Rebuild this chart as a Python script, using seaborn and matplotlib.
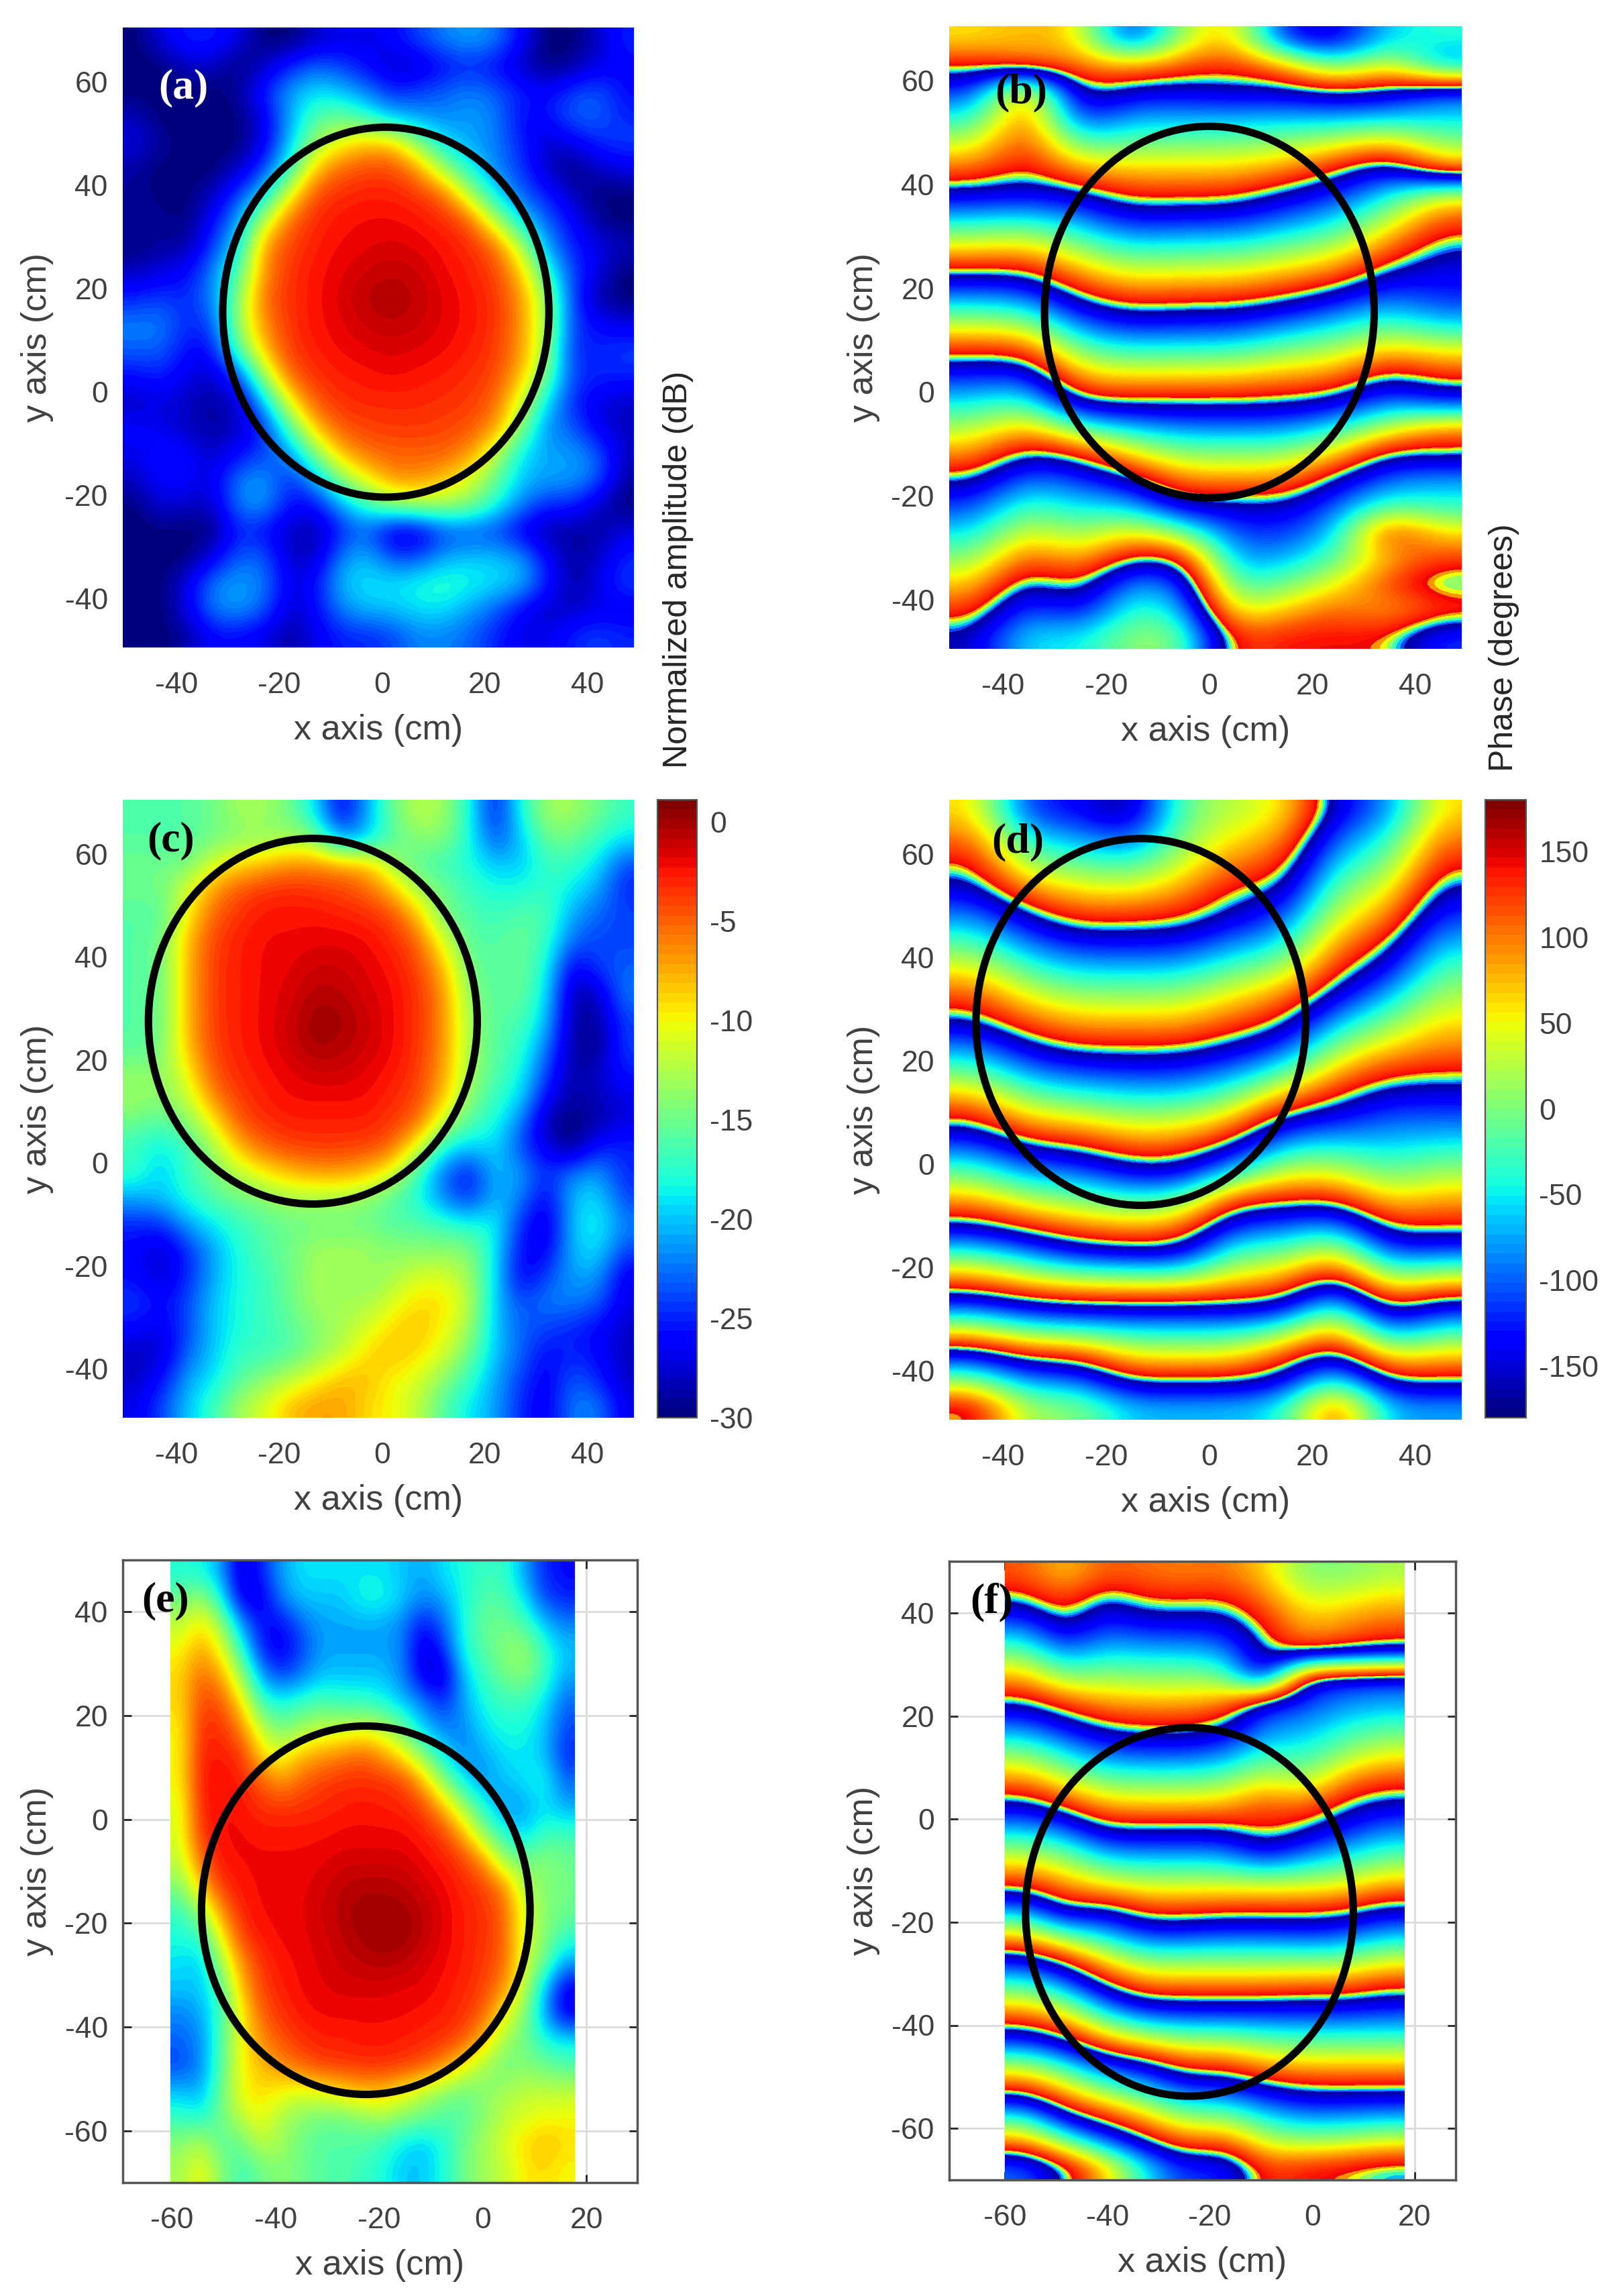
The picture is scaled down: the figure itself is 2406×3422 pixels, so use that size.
import numpy as np
import pandas as pd
import matplotlib
matplotlib.use("Agg")
import matplotlib.pyplot as plt
import seaborn as sns
from matplotlib.colors import ListedColormap
from matplotlib.patches import Ellipse

# amplitude in dB, rows run top to bottom, 5 cm rows
amp_a = [
    [-30, -27, -25, -25, -27, -30, -30, -28, -27, -27, -26, -24, -22, -21, -22, -26, -30, -30, -28, -25],
    [-30, -30, -28, -28, -30, -28, -25, -23, -24, -26, -28, -28, -26, -25, -26, -28, -30, -29, -27, -26],
    [-30, -30, -30, -30, -29, -25, -21, -19, -20, -22, -25, -24, -23, -22, -23, -25, -26, -24, -23, -26],
    [-28, -30, -30, -30, -30, -27, -21, -16, -15, -17, -20, -21, -22, -21, -22, -26, -26, -23, -23, -25],
    [-27, -29, -30, -30, -30, -27, -20, -13, -10, -8, -8, -14, -19, -21, -22, -25, -28, -27, -25, -24],
    [-29, -30, -30, -30, -28, -24, -17, -8, -5, -4, -4, -6.5, -13, -18, -22, -24, -28, -30, -28, -27],
    [-29, -30, -30, -28, -24, -19, -10, -4, -3.1, -2.8, -2.8, -3.4, -5, -12, -19, -23, -25, -28, -30, -30],
    [-29, -29, -30, -26, -21, -12, -5, -3.1, -2.5, -2.2, -2.2, -2.5, -3.1, -4.5, -12, -19, -23, -26, -29, -30],
    [-30, -29, -29, -24, -19, -6.5, -4, -2.8, -2.2, -1.9, -1.6, -1.9, -2.5, -3.1, -5, -12, -21, -25, -27, -28],
    [-28, -27, -26, -22, -16, -6.5, -3.4, -2.5, -1.9, -1.2, -0.8, -1.2, -2.2, -2.8, -4, -8, -17, -24, -27, -30],
    [-25, -24, -25, -22, -14, -5, -3.4, -2.5, -1.6, -0.6, -0.3, -0.8, -1.9, -2.5, -3.4, -6.5, -13, -24, -29, -30],
    [-22, -22, -25, -24, -13, -6.5, -3.4, -2.5, -1.9, -1.2, -0.8, -1.2, -1.9, -2.5, -3.4, -6.5, -13, -24, -26, -27],
    [-23, -23, -26, -26, -16, -8, -3.7, -2.8, -2.2, -1.9, -1.6, -1.9, -2.2, -2.8, -3.7, -6.5, -13, -25, -25, -24],
    [-26, -25, -27, -28, -24, -13, -5, -3.4, -2.8, -2.5, -2.2, -2.5, -2.8, -3.4, -4, -8, -15, -24, -25, -25],
    [-28, -27, -28, -29, -28, -20, -10, -4.5, -3.4, -3.1, -3.1, -3.1, -3.4, -3.7, -5, -11, -19, -25, -27, -28],
    [-26, -27, -28, -29, -28, -25, -16, -8, -4.5, -4, -3.7, -3.7, -4, -4.5, -6.5, -14, -22, -23, -27, -28],
    [-27, -25, -26, -28, -26, -24, -22, -14, -8, -5.5, -5, -5, -5, -6.5, -12, -19, -21, -21, -23, -28],
    [-28, -26, -26, -27, -22, -21, -25, -21, -14, -10, -6.5, -6.5, -8, -11, -15, -20, -21, -21, -23, -29],
    [-30, -27, -28, -28, -22, -21, -26, -26, -21, -17, -14, -13, -13, -14, -18, -22, -25, -25, -28, -30],
    [-30, -30, -30, -30, -25, -26, -28, -29, -25, -23, -28, -28, -24, -24, -24, -27, -29, -29, -29, -27],
    [-30, -30, -30, -27, -23, -23, -28, -28, -22, -20, -24, -24, -21, -20, -20, -21, -26, -29, -28, -25],
    [-30, -30, -27, -22, -21, -22, -27, -26, -20, -19, -19, -18, -17, -18, -19, -20, -25, -29, -27, -24],
    [-30, -30, -27, -22, -21, -23, -28, -26, -22, -20, -20, -19, -19, -21, -23, -26, -28, -28, -27, -27],
    [-30, -30, -29, -26, -26, -27, -29, -27, -25, -25, -24, -22, -22, -23, -25, -27, -27, -25, -24, -25],
]
amp_c = [
    [-16, -16, -16, -15, -13, -13, -15, -19, -27, -21, -15, -12, -13, -18, -26, -18, -13, -13, -15, -17],
    [-16, -16, -16, -15, -14, -14, -13, -14, -22, -20, -16, -14, -14, -18, -24, -20, -15, -15, -17, -19],
    [-15, -15, -15, -11, -9, -8, -6.5, -6.5, -7, -8, -13, -16, -17, -18, -20, -20, -17, -17, -19, -24],
    [-15, -15, -11, -7, -4.5, -3.4, -3.1, -3.4, -4, -5, -8, -13, -15, -17, -18, -18, -17, -19, -21, -25],
    [-16, -16, -10, -5, -3.4, -2.5, -2.5, -2.5, -2.8, -3.1, -4, -8, -15, -16, -17, -16, -16, -21, -23, -24],
    [-16, -15, -8, -4, -2.8, -2.2, -2.2, -1.9, -1.9, -2.2, -3.1, -5, -11, -16, -16, -15, -17, -23, -24, -24],
    [-16, -15, -8, -3.7, -2.8, -2.2, -1.9, -1.2, -1.2, -1.9, -2.5, -4, -8, -15, -16, -15, -18, -27, -24, -23],
    [-16, -15, -8, -3.7, -2.8, -2.2, -1.6, -0.5, -0.8, -1.6, -2.2, -3.4, -6.5, -14, -16, -15, -19, -29, -28, -22],
    [-16, -15, -8, -3.7, -2.8, -2.2, -1.2, 0.2, 0, -1.2, -2.2, -3.4, -6.5, -13, -16, -16, -20, -29, -29, -24],
    [-16, -15, -8, -4, -2.8, -2.2, -1.2, 0, -0.5, -1.2, -2.2, -3.4, -6.5, -13, -16, -17, -22, -29, -30, -24],
    [-14, -14, -10, -4.5, -3.1, -2.5, -1.9, -1.2, -1.2, -1.9, -2.5, -3.7, -7, -13, -16, -18, -24, -29, -28, -25],
    [-13, -14, -12, -6, -3.7, -2.8, -2.2, -2.2, -2.2, -2.2, -3.1, -4, -8, -14, -17, -19, -26, -29, -28, -27],
    [-15, -16, -14, -10, -4.5, -3.4, -2.8, -2.8, -2.8, -2.8, -3.7, -5, -12, -16, -18, -22, -29, -30, -29, -27],
    [-17, -19, -17, -13, -8, -5, -4, -3.7, -3.7, -4, -5, -11, -18, -20, -19, -24, -27, -30, -25, -25],
    [-17, -20, -17, -15, -12, -10, -8, -7, -7, -8, -11, -17, -23, -26, -20, -21, -25, -22, -21, -25],
    [-21, -20, -18, -16, -15, -14, -13, -13, -13, -14, -16, -18, -22, -25, -20, -22, -27, -20, -19, -24],
    [-25, -25, -21, -19, -17, -16, -15, -15, -15, -15, -16, -16, -17, -18, -18, -25, -28, -20, -18, -22],
    [-26, -28, -25, -21, -18, -16, -15, -13, -13, -13, -14, -14, -14, -14, -19, -26, -27, -20, -19, -24],
    [-26, -28, -25, -21, -18, -17, -15, -13, -13, -14, -13, -11, -11, -13, -19, -27, -24, -21, -21, -27],
    [-24, -26, -24, -20, -18, -17, -15, -13, -13, -13, -11, -9, -9, -12, -20, -24, -22, -22, -23, -27],
    [-26, -27, -24, -20, -18, -17, -16, -14, -13, -11, -9, -8, -10, -13, -20, -23, -24, -25, -26, -28],
    [-28, -28, -23, -20, -17, -17, -16, -14, -12, -9, -8, -9, -11, -15, -20, -23, -26, -25, -26, -28],
    [-28, -26, -21, -19, -16, -14, -12, -10, -8, -8, -10, -11, -14, -17, -21, -24, -27, -23, -25, -28],
    [-27, -24, -20, -17, -13, -11, -8, -7, -7, -9, -10, -12, -16, -19, -21, -25, -27, -22, -22, -27],
]
amp_e = [
    [-18, -18, -21, -28, -25, -21, -19, -19, -19, -19, -19, -20, -21, -19, -18, -17, -17, -21, -25, -26],
    [-15, -13, -18, -27, -27, -22, -20, -20, -20, -18, -18, -20, -22, -21, -18, -16, -16, -19, -24, -25],
    [-12, -9, -13, -21, -26, -26, -23, -21, -21, -21, -21, -22, -26, -23, -18, -15, -15, -16, -20, -22],
    [-10, -7, -10, -17, -25, -27, -24, -21, -21, -21, -21, -22, -28, -25, -18, -16, -14, -13, -17, -20],
    [-9, -5, -7, -13, -21, -24, -22, -20, -20, -20, -20, -22, -27, -28, -20, -17, -15, -14, -17, -21],
    [-9, -4, -4.5, -9, -17, -18, -17, -16, -17, -17, -18, -20, -22, -25, -21, -18, -17, -17, -19, -23],
    [-10, -3.1, -3.4, -6, -12, -15, -13, -12, -12, -11, -12, -15, -20, -22, -22, -19, -18, -18, -20, -24],
    [-10, -2.8, -2.8, -3.4, -9, -11, -8, -7, -6, -5, -7, -10, -14, -19, -22, -21, -19, -19, -20, -25],
    [-10, -2.5, -2.2, -2.8, -5, -7, -5, -4, -3.4, -3.4, -3.4, -4, -8, -14, -19, -22, -20, -19, -18, -23],
    [-11, -2.8, -2.2, -2.5, -3.4, -3.7, -3.4, -3.1, -2.8, -2.5, -2.8, -3.1, -4, -8, -13, -18, -22, -21, -19, -21],
    [-11, -3.4, -2.2, -2.2, -2.5, -2.5, -2.5, -2.5, -2.2, -2.2, -2.2, -2.2, -2.8, -4, -8, -14, -18, -20, -17, -17],
    [-12, -5, -2.5, -2.2, -2.2, -2.2, -2.2, -1.9, -1.6, -1.6, -1.6, -1.6, -2.2, -2.8, -4, -7, -14, -15, -14, -15],
    [-14, -8, -3.4, -2.5, -2.2, -2.2, -1.9, -1.6, -0.8, -0.5, -0.5, -0.8, -1.6, -2.2, -3.1, -4, -6.5, -13, -14, -15],
    [-17, -13, -6.5, -2.8, -2.2, -2.2, -1.9, -1.2, -0.5, 0, 0, 0, -0.8, -1.9, -2.8, -3.4, -5, -11, -14, -15],
    [-18, -17, -10, -4, -2.5, -2.2, -1.9, -1.6, -0.8, 0, 0.2, 0.2, -0.8, -1.9, -2.8, -3.4, -5, -11, -14, -17],
    [-19, -20, -13, -6.5, -3.4, -2.5, -2.2, -1.6, -1.2, -0.8, -0.5, -0.8, -1.6, -2.2, -2.8, -3.7, -5, -11, -15, -21],
    [-20, -20, -16, -8, -4, -2.8, -2.2, -1.9, -1.6, -1.6, -1.6, -1.9, -1.9, -2.5, -3.1, -4, -6.5, -12, -20, -27],
    [-22, -21, -17, -10, -5, -3.4, -2.5, -2.2, -2.2, -2.2, -2.2, -2.2, -2.5, -2.8, -3.4, -5, -10, -14, -21, -27],
    [-23, -22, -16, -10, -6.5, -4.5, -3.4, -2.8, -2.8, -2.5, -2.5, -2.8, -3.1, -3.4, -4.5, -8, -13, -15, -18, -19],
    [-24, -22, -16, -10, -8, -6.5, -5, -4, -3.7, -3.4, -3.4, -3.7, -4.5, -6.5, -10, -13, -15, -14, -15, -16],
    [-20, -21, -15, -10, -9, -10, -11, -10, -9, -8, -8, -10, -12, -14, -15, -14, -13, -12, -12, -12],
    [-17, -18, -15, -12, -10, -13, -14, -15, -15, -14, -13, -14, -15, -16, -16, -14, -12, -11, -10, -10],
    [-14, -12, -16, -15, -12, -13, -15, -16, -16, -16, -17, -19, -20, -18, -15, -13, -11, -9, -8, -9],
    [-13, -10, -14, -17, -15, -14, -15, -16, -16, -17, -18, -20, -20, -18, -15, -13, -12, -9.5, -9, -10],
]

# phase in degrees, one list per column (left to right), unwrapped, 5 cm rows top to bottom
phase_b = [
    [60, 150, 230, 310, 390, 470, 560, 665, 775, 890, 1000, 1110, 1220, 1310, 1385, 1460, 1535, 1615, 1680, 1740, 1800, 1870, 1930, 1990],
    [80, 110, 490, 500, 510, 525, 570, 680, 790, 890, 990, 1100, 1220, 1320, 1420, 1530, 1630, 1710, 1780, 1850, 1930, 2000, 2060, 2110],
    [70, 110, 150, 215, 330, 445, 557, 640, 725, 810, 893, 980, 1070, 1160, 1250, 1420, 1600, 1680, 1740, 1800, 1870, 1940, 2000, 2100],
    [-160, 80, 200, 280, 350, 430, 500, 580, 670, 760, 850, 940, 1040, 1145, 1250, 1375, 1505, 1635, 1740, 1860, 1970, 2080, 2130, 2170],
    [20, 120, 205, 280, 355, 430, 505, 590, 680, 770, 860, 950, 1045, 1150, 1250, 1350, 1445, 1540, 1630, 1800, 1975, 2060, 2110, 2170],
    [90, 140, 190, 280, 355, 430, 505, 590, 680, 770, 860, 950, 1045, 1150, 1250, 1350, 1445, 1540, 1635, 1680, 1710, 1760, 1830, 1920],
    [-150, 90, 195, 285, 370, 455, 550, 625, 710, 795, 885, 985, 1080, 1170, 1255, 1350, 1445, 1540, 1630, 1670, 1720, 1790, 1870, 1950],
    [-170, -40, 170, 280, 395, 510, 590, 660, 740, 825, 930, 1020, 1100, 1180, 1275, 1390, 1505, 1630, 1690, 1730, 1780, 1850, 1920, 1950],
    [-60, 60, 185, 290, 440, 580, 663, 745, 826, 908, 985, 1060, 1160, 1265, 1350, 1470, 1625, 1700, 1780, 1960, 1880, 1930, 1880, 1950],
    [-40, -100, 240, 300, 360, 460, 760, 850, 900, 930, 950, 1020, 1130, 1220, 1310, 1540, 1610, 1720, 1760, 1860, 1930, 1990, 1920, 2040],
]
phase_d = [
    [430, 475, 520, 565, 630, 700, 770, 840, 900, 985, 1070, 1165, 1250, 1340, 1435, 1530, 1630, 1760, 1900, 2030, 2200, 2380, 2530, 2690],
    [230, 305, 370, 460, 550, 620, 690, 760, 830, 910, 990, 1075, 1165, 1270, 1360, 1470, 1580, 1710, 1840, 1990, 2130, 2310, 2430, 2530],
    [220, 280, 350, 420, 490, 575, 650, 725, 795, 870, 960, 1050, 1150, 1250, 1350, 1440, 1540, 1650, 1810, 1970, 2120, 2300, 2430, 2530],
    [160, 240, 325, 410, 495, 575, 650, 725, 795, 870, 950, 1030, 1115, 1200, 1295, 1410, 1520, 1635, 1800, 1970, 2100, 2210, 2330, 2450],
    [350, 365, 395, 450, 505, 575, 650, 725, 795, 870, 950, 1030, 1120, 1205, 1290, 1420, 1535, 1630, 1800, 1970, 2100, 2210, 2330, 2450],
    [390, 420, 470, 520, 555, 625, 700, 770, 835, 905, 985, 1070, 1165, 1270, 1400, 1580, 1680, 1780, 1860, 1970, 2100, 2210, 2330, 2450],
    [410, 450, 490, 535, 600, 660, 730, 810, 875, 950, 1050, 1170, 1290, 1390, 1490, 1590, 1690, 1780, 1880, 1980, 2140, 2280, 2360, 2470],
    [570, 620, 670, 720, 760, 810, 860, 915, 1000, 1080, 1160, 1235, 1310, 1400, 1490, 1600, 1730, 1860, 1990, 2130, 2260, 2370, 2510, 2670],
    [620, 670, 710, 760, 810, 870, 925, 1000, 1070, 1140, 1220, 1290, 1340, 1380, 1430, 1500, 1590, 1680, 1800, 1930, 2050, 2200, 2330, 2440],
    [790, 830, 870, 915, 960, 1010, 1060, 1100, 1140, 1180, 1230, 1290, 1340, 1400, 1460, 1530, 1590, 1690, 1840, 2000, 2120, 2230, 2330, 2440],
]
phase_f = [
    [120, 170, 260, 350, 445, 540, 630, 730, 820, 920, 1020, 1120, 1220, 1350, 1510, 1660, 1780, 1900, 2020, 2170, 2310, 2470, 2620, 2780],
    [70, 120, 170, 260, 360, 490, 580, 670, 760, 870, 990, 1090, 1170, 1250, 1420, 1600, 1720, 1850, 1970, 2110, 2230, 2350, 2510, 2700],
    [120, 190, 240, 300, 375, 450, 535, 620, 710, 805, 910, 1020, 1130, 1270, 1380, 1500, 1620, 1740, 1880, 2030, 2160, 2290, 2420, 2600],
    [110, 150, 215, 290, 365, 445, 520, 610, 705, 800, 910, 1010, 1110, 1210, 1320, 1440, 1550, 1680, 1830, 1995, 2110, 2230, 2340, 2470],
    [100, 150, 215, 290, 365, 445, 520, 610, 705, 800, 910, 1010, 1110, 1210, 1320, 1440, 1550, 1670, 1800, 1930, 2040, 2160, 2270, 2390],
    [110, 155, 210, 275, 360, 460, 545, 625, 715, 805, 910, 1010, 1110, 1220, 1330, 1440, 1550, 1670, 1800, 1930, 2040, 2160, 2280, 2400],
    [70, 110, 150, 170, 175, 580, 630, 690, 770, 850, 860, 950, 1110, 1220, 1330, 1440, 1550, 1670, 1780, 1880, 2000, 2100, 2190, 2290],
    [0, 40, 80, 130, 560, 600, 640, 680, 730, 830, 900, 1000, 1110, 1220, 1320, 1440, 1560, 1670, 1770, 1870, 1970, 2070, 2170, 2310],
    [0, 50, 100, 150, 580, 630, 680, 730, 820, 890, 950, 1030, 1120, 1230, 1330, 1440, 1560, 1670, 1770, 1870, 1970, 2070, 2180, 2320],
    [20, 70, 120, 170, 590, 640, 700, 770, 850, 920, 990, 1070, 1160, 1270, 1370, 1480, 1590, 1680, 1770, 1870, 1970, 2080, 2200, 2340],
]

top_ticks = [-40, -20, 0, 20, 40]
top_yticks = [-40, -20, 0, 20, 40, 60]
low_xticks = [-60, -40, -20, 0, 20]
low_yticks = [-60, -40, -20, 0, 20, 40]
amp_ticks = [-30, -25, -20, -15, -10, -5, 0]
phase_ticks = [-150, -100, -50, 0, 50, 100, 150]

# circles: centre x, centre y, width, height
circles = {"a": (0.7, 15.4, 63.5, 71.6), "b": (0, 15.4, 64, 71.6), "c": (-13.5, 27.5, 64, 71),
           "d": (-13.3, 27.5, 64, 71), "e": (-22.6, -17.5, 63.4, 71), "f": (-24, -18, 64, 71.5)}

W, H = 2406, 3422
GREY = "#404040"

sns.set_theme(style="white")
plt.rcParams["font.family"] = ["Liberation Sans", "DejaVu Sans"]

jet_lut = plt.get_cmap("jet", 64)(np.linspace(0, 1, 64))
N_WRAP = 12
# phase is unwrapped: colours repeat every 360 degrees, with a thin reversed rainbow at the jump like the original
forward = plt.get_cmap("jet")(np.linspace(0.03, 0.9, 72))
back = plt.get_cmap("jet")(np.linspace(0.75, 0.2, 6))
wrap_cmap = ListedColormap(np.tile(np.vstack([forward, back]), (N_WRAP, 1)))
WRAP_MIN = -900


def make_ax(fig, l, t, r, b):
    return fig.add_axes([l / W, 1 - b / H, (r - l) / W, (b - t) / H])


def panel(fig, box, values, is_phase, x0, dx, ytop, dy, xlim, ylim, xticks, yticks, circle, cax=None, framed=False):
    ax = make_ax(fig, *box)
    ny, nx = values.shape
    fx = lambda v: (np.asarray(v, dtype=float) - x0) / dx
    fy = lambda v: (ytop - np.asarray(v, dtype=float)) / dy

    if is_phase:
        shown = (values + 180) % 360 - 180
        vmin, vmax = -180, 180
    else:
        shown = values
        vmin, vmax = -30, 1.1
    sns.heatmap(pd.DataFrame(shown), ax=ax, cmap=ListedColormap(jet_lut), vmin=vmin, vmax=vmax,
                cbar=cax is not None, cbar_ax=cax, xticklabels=False, yticklabels=False)
    extent = (0, nx, ny, 0)
    if is_phase:
        ax.imshow(values, cmap=wrap_cmap, vmin=WRAP_MIN, vmax=WRAP_MIN + 360 * N_WRAP, extent=extent, aspect="auto",
                  interpolation="bicubic", interpolation_stage="data", zorder=2)
    else:
        ax.imshow(values, cmap=ListedColormap(jet_lut), vmin=vmin, vmax=vmax, extent=extent, aspect="auto",
                  interpolation="bicubic", interpolation_stage="data", zorder=2)

    ax.set_xlim(fx(xlim[0]), fx(xlim[1]))
    ax.set_ylim(fy(ylim[0]), fy(ylim[1]))
    ax.set_xticks(fx(xticks))
    ax.set_xticklabels([str(v) for v in xticks], rotation=0)
    ax.set_yticks(fy(yticks))
    ax.set_yticklabels([str(v) for v in yticks], rotation=0)
    ax.set_xlabel("x axis (cm)", fontsize=37.5, color=GREY, labelpad=16)
    ax.set_ylabel("y axis (cm)", fontsize=37.5, color=GREY, labelpad=12)
    if framed:
        ax.tick_params(length=9, width=2, direction="in", top=True, right=True, bottom=True, left=True,
                       labelsize=32, labelcolor=GREY)
        ax.grid(True, color="#dcdcdc", lw=2)
        ax.set_axisbelow(True)
        ax.collections[0].set_zorder(1.5)
        for s in ax.spines.values():
            s.set_visible(True)
            s.set_color("#555555")
            s.set_linewidth(2.5)
    else:
        ax.tick_params(length=0, labelsize=32, labelcolor=GREY)
        for s in ax.spines.values():
            s.set_visible(False)
    ax.tick_params(axis="x", pad=26)
    ax.tick_params(axis="y", pad=16)

    cx, cy, w, h = circle
    ax.add_patch(Ellipse((fx(cx), fy(cy)), w / dx, h / dy, fc="none", ec="black", lw=8, zorder=5))
    return ax


fig = plt.figure(figsize=(W / 100, H / 100), dpi=100, facecolor="white")

amp_a, amp_c, amp_e = np.array(amp_a, float), np.array(amp_c, float), np.array(amp_e, float)
phase_b, phase_d, phase_f = np.array(phase_b, float).T, np.array(phase_d, float).T, np.array(phase_f, float).T

cax_c = make_ax(fig, 980, 1192, 1039, 2113)
cax_d = make_ax(fig, 2214, 1192, 2275, 2113)

top_kw = dict(ytop=70.5, xlim=(-50.5, 49), ylim=(-49.5, 70.5), xticks=top_ticks, yticks=top_yticks)
low_kw = dict(ytop=50, ylim=(-70, 50), xticks=low_xticks, yticks=low_yticks, framed=True)

panel(fig, (183, 41, 945, 965), amp_a, False, x0=-50.5, dx=5, dy=5, circle=circles["a"], **top_kw)
panel(fig, (1415, 39, 2179, 967), phase_b, True, x0=-50.5, dx=10, dy=5, circle=circles["b"], **top_kw)
panel(fig, (183, 1192, 945, 2113), amp_c, False, x0=-50.5, dx=5, dy=5, circle=circles["c"], cax=cax_c, **top_kw)
panel(fig, (1415, 1192, 2179, 2116), phase_d, True, x0=-50.5, dx=10, dy=5, circle=circles["d"], cax=cax_d, **top_kw)
panel(fig, (183, 2325, 950, 3253), amp_e, False, x0=-60.3, dx=3.9, dy=5, xlim=(-69.5, 29.8), circle=circles["e"], **low_kw)
panel(fig, (1415, 2327, 2170, 3249), phase_f, True, x0=-60, dx=7.8, dy=5, xlim=(-70.9, 28), circle=circles["f"], **low_kw)

for cax, ticks in ((cax_c, amp_ticks), (cax_d, phase_ticks)):
    cax.set_yticks(ticks)
    cax.set_yticklabels([str(v) for v in ticks])
    cax.tick_params(axis="y", length=6, width=1.5, direction="in", right=True, labelsize=32, labelcolor=GREY, pad=14)
    for s in cax.spines.values():
        s.set_visible(True)
        s.set_color("#555555")
        s.set_linewidth(1.5)

fig.text(1011 / W, 1 - 849 / H, "Normalized amplitude (dB)", rotation=90, ha="center", va="center", fontsize=36, color="#262626")
fig.text(2242 / W, 1 - 965 / H, "Phase (degrees)", rotation=90, ha="center", va="center", fontsize=36, color="#262626")

for txt, px, py, col in (("(a)", 273, 131, "white"), ("(b)", 1522, 138, "black"), ("(c)", 255, 1253, "black"),
                         ("(d)", 1517, 1255, "black"), ("(e)", 247, 2386, "black"), ("(f)", 1478, 2388, "black")):
    fig.text(px / W, 1 - py / H, txt, ha="center", va="center", fontsize=46, fontweight="bold",
             family=["Liberation Serif", "DejaVu Serif"], color=col, zorder=10)

fig.savefig("out.png", dpi=100, facecolor="white")
